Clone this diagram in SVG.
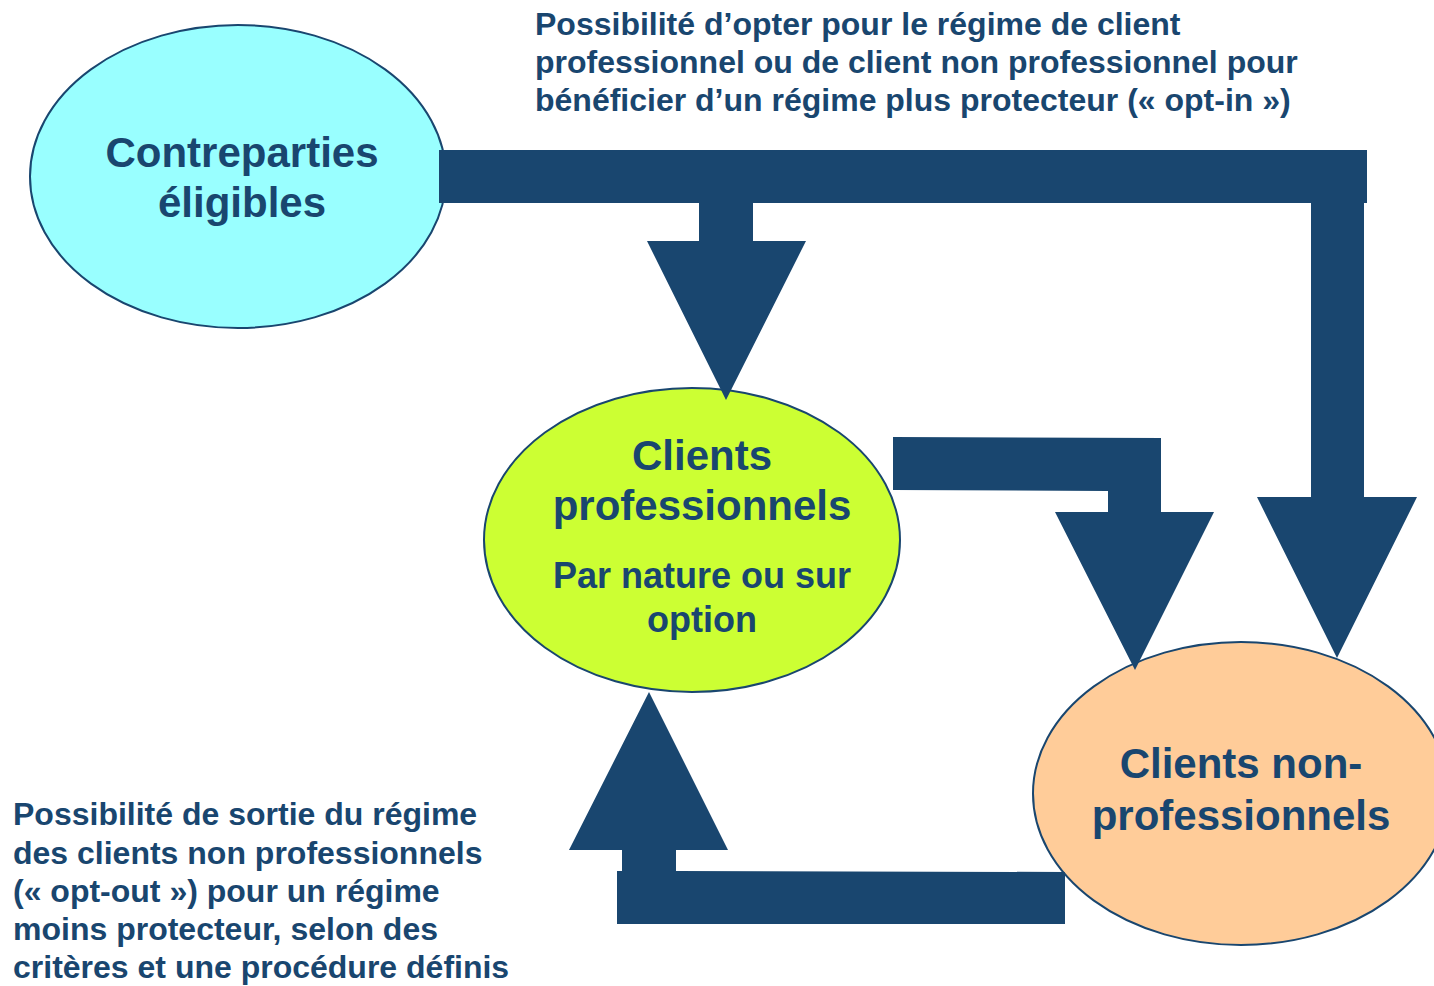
<svg xmlns="http://www.w3.org/2000/svg" width="1434" height="986" viewBox="0 0 1434 986">
<style>
.node{stroke:#19466F;stroke-width:2}
.t{font-family:"Liberation Sans",Arial,sans-serif;font-weight:bold;fill:#19466F}
.big{font-size:42px;text-anchor:middle}
.mid{font-size:36px;text-anchor:middle}
.para{font-size:32px}
.arr{fill:#19466F}
</style>
<rect width="1434" height="986" fill="#FFFFFF"/>
<g id="node-contreparties">
<ellipse class="node" cx="238" cy="176.5" rx="208" ry="151.5" fill="#99FFFF"/>
<text class="t big" x="242" y="167">Contreparties</text>
<text class="t big" x="242" y="217">éligibles</text>
</g>
<g id="node-professionnels">
<ellipse class="node" cx="692" cy="540" rx="208" ry="152" fill="#CCFF33"/>
<text class="t big" x="702" y="470">Clients</text>
<text class="t big" x="702" y="520">professionnels</text>
<text class="t mid" x="702" y="588">Par nature ou sur</text>
<text class="t mid" x="702" y="632">option</text>
</g>
<g id="node-non-professionnels">
<ellipse class="node" cx="1241" cy="793.5" rx="208" ry="151.5" fill="#FFCC99"/>
<text class="t big" x="1241" y="778">Clients non-</text>
<text class="t big" x="1241" y="830">professionnels</text>
</g>
<g id="connectors">
<polygon class="arr" points="439,150 1367,150 1367,203 1364,203 1364,497 1417,497 1337,658 1257,497 1311,497 1311,203 753,203 753,241 806,241 726,400 647,241 699,241 699,203 439,203"/>
<polygon class="arr" points="893,437 1161,438 1161,512 1214,512 1135,670 1055,512 1108,512 1108,491 893,490"/>
<polygon class="arr" points="617,871 622,871 622,850 569,850 649,692 728,850 676,850 676,871 1065,872 1065,924 617,924"/>
</g>
<g id="labels">
<text class="t para" x="535" y="35">Possibilité d’opter pour le régime de client</text>
<text class="t para" x="535" y="73">professionnel ou de client non professionnel pour</text>
<text class="t para" x="535" y="110.5">bénéficier d’un régime plus protecteur (« opt-in »)</text>
<text class="t para" x="13" y="825">Possibilité de sortie du régime</text>
<text class="t para" x="13" y="864">des clients non professionnels</text>
<text class="t para" x="13" y="902">(« opt-out ») pour un régime</text>
<text class="t para" x="13" y="940">moins protecteur, selon des</text>
<text class="t para" x="13" y="978">critères et une procédure définis</text>
</g>
</svg>
